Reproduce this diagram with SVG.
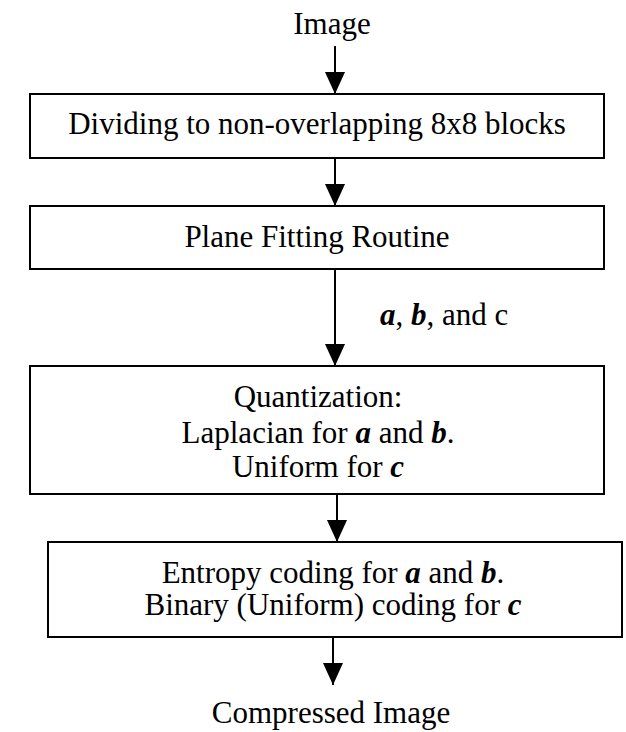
<svg xmlns="http://www.w3.org/2000/svg" width="626" height="732" viewBox="0 0 626 732">
<defs>
<style>
text{font-family:"Liberation Serif","Times New Roman",serif;font-size:31px;fill:#000;text-anchor:middle}
.box{fill:#fff;stroke:#000;stroke-width:2}
.con{stroke:#000;stroke-width:2;fill:none}
.bi{font-weight:bold;font-style:italic}
</style>
<marker id="ah" viewBox="0 0 22 20" refX="22" refY="10" markerWidth="22" markerHeight="20" markerUnits="userSpaceOnUse" orient="auto">
<path d="M0,0 L22,10 L0,20 Z" fill="#000"/>
</marker>
</defs>
<g id="connectors">
<line class="con" x1="335" y1="46" x2="335" y2="94" marker-end="url(#ah)"/>
<line class="con" x1="335" y1="158" x2="335" y2="206" marker-end="url(#ah)"/>
<line class="con" x1="335" y1="269" x2="335" y2="366" marker-end="url(#ah)"/>
<line class="con" x1="337" y1="494" x2="337" y2="542" marker-end="url(#ah)"/>
<line class="con" x1="333" y1="637" x2="333" y2="685" marker-end="url(#ah)"/>
<text x="380" y="325" style="text-anchor:start"><tspan class="bi">a</tspan>, <tspan class="bi">b</tspan>, and c</text>
</g>
<g id="image"><text x="332" y="34">Image</text></g>
<g id="divide">
<rect class="box" x="30" y="94" width="574" height="64"/>
<text x="317" y="134">Dividing to non-overlapping 8x8 blocks</text>
</g>
<g id="plane">
<rect class="box" x="30" y="206" width="574" height="63"/>
<text x="317" y="247">Plane Fitting Routine</text>
</g>
<g id="quant">
<rect class="box" x="30" y="366" width="574" height="128"/>
<text x="318" y="407">Quantization:</text>
<text x="318" y="443">Laplacian for <tspan class="bi">a</tspan> and <tspan class="bi">b</tspan>.</text>
<text x="318" y="477">Uniform for <tspan class="bi">c</tspan></text>
</g>
<g id="entropy">
<rect class="box" x="48" y="542" width="574" height="95"/>
<text x="333" y="583">Entropy coding for <tspan class="bi">a</tspan> and <tspan class="bi">b</tspan>.</text>
<text x="333" y="615">Binary (Uniform) coding for <tspan class="bi">c</tspan></text>
</g>
<g id="compressed"><text x="331" y="723">Compressed Image</text></g>
</svg>
